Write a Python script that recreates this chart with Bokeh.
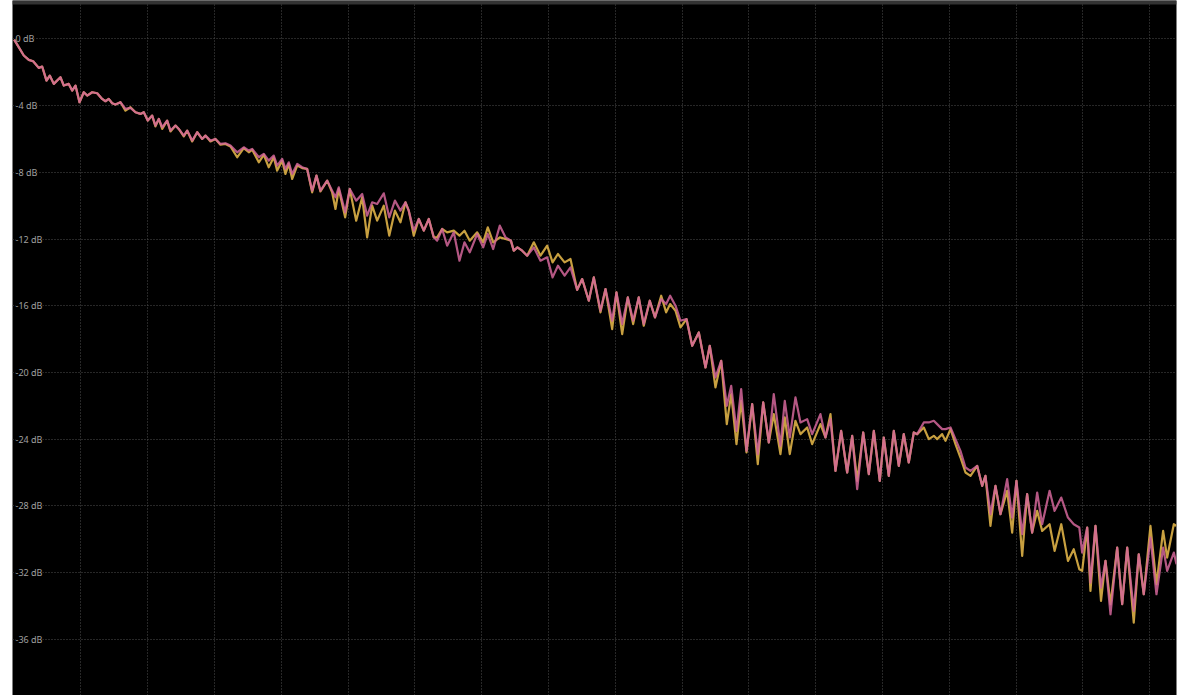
from bokeh.plotting import figure
from bokeh.models import Range1d, Grid, FixedTicker, BoxAnnotation, ColumnDataSource, LabelSet
from bokeh.core.properties import value
from bokeh.embed import file_html
from bokeh.resources import INLINE

# Frequency position (grid divisions) shared by both measurements
freq_pos = [
    0.000, 0.144, 0.219, 0.284, 0.368, 0.419, 0.484, 0.533, 0.593, 0.693,
    0.743, 0.817, 0.868, 0.918, 0.978, 1.042, 1.093, 1.168, 1.243, 1.317,
    1.367, 1.416, 1.467, 1.516, 1.591, 1.666, 1.741, 1.816, 1.891, 1.940,
    2.000, 2.066, 2.115, 2.165, 2.216, 2.290, 2.340, 2.415, 2.464, 2.539,
    2.590, 2.665, 2.740, 2.814, 2.864, 2.939, 3.013, 3.088, 3.163, 3.238,
    3.338, 3.437, 3.512, 3.563, 3.662, 3.737, 3.811, 3.886, 3.937, 4.012,
    4.061, 4.111, 4.162, 4.237, 4.311, 4.386,
    4.461, 4.525, 4.585, 4.686, 4.760, 4.810, 4.859, 4.955, 5.024, 5.120,
    5.210, 5.284, 5.359, 5.434, 5.533, 5.615, 5.700, 5.783, 5.858, 5.907,
    5.982, 6.057, 6.132, 6.207, 6.281, 6.332, 6.407, 6.482, 6.581, 6.666,
    6.741, 6.820, 6.931, 7.021, 7.090, 7.171, 7.270, 7.355, 7.436, 7.479,
    7.534, 7.605, 7.680, 7.779, 7.879, 7.979, 8.060, 8.140, 8.240, 8.328,
    8.428, 8.503, 8.602, 8.677, 8.777, 8.852, 8.952, 9.016, 9.102, 9.186,
    9.266, 9.350, 9.425, 9.515, 9.593, 9.686, 9.760, 9.820, 9.900, 9.975,
    10.065, 10.150, 10.249, 10.349, 10.413, 10.498, 10.584, 10.668, 10.734, 10.813,
    10.883, 10.963, 11.048, 11.132, 11.213, 11.297, 11.371, 11.471, 11.536, 11.611,
    11.696, 11.771, 11.871, 11.946, 12.070, 12.145, 12.220, 12.295, 12.380, 12.470,
    12.545, 12.620, 12.710, 12.794, 12.869, 12.958, 13.018, 13.093, 13.168, 13.243,
    13.317, 13.392, 13.467, 13.518, 13.617, 13.692, 13.767, 13.817, 13.892, 13.942,
    14.017, 14.091, 14.166, 14.241, 14.316, 14.416, 14.491, 14.540, 14.615, 14.690,
    14.765, 14.865, 14.940, 15.004, 15.090, 15.164, 15.239, 15.314, 15.389, 15.500,
    15.575, 15.675, 15.775, 15.862, 15.945, 15.988, 16.063, 16.112, 16.187, 16.270,
    16.337, 16.412, 16.512, 16.587, 16.662, 16.760, 16.835, 16.910, 17.010, 17.100,
    17.200, 17.260, 17.360, 17.400,
]

# Response of measurement B (pink), dB
response_pink = [
    -0.05, -1.00, -1.26, -1.34, -1.74, -1.66, -2.50, -2.20, -2.70, -2.30,
    -2.80, -2.70, -3.10, -2.80, -3.80, -3.20, -3.40, -3.20, -3.26, -3.60,
    -3.74, -3.60, -3.86, -3.94, -3.80, -4.20, -4.14, -4.40, -4.50, -4.40,
    -4.90, -4.60, -5.20, -4.80, -5.30, -4.90, -5.50, -5.20, -5.40, -5.80,
    -5.50, -6.10, -5.60, -6.00, -5.80, -6.10, -6.00, -6.30, -6.26, -6.40,
    -6.80, -6.50, -6.70, -6.60, -7.10, -6.90, -7.30, -7.00, -7.60, -7.20,
    -7.80, -7.40, -8.10, -7.50, -7.70, -7.80,
    -9.10, -8.20, -9.10, -8.50, -9.10, -9.50, -8.90, -10.40, -9.00, -9.70,
    -9.30, -10.60, -9.80, -9.90, -9.26, -10.70, -9.70, -10.30, -9.80, -10.30,
    -11.50, -10.80, -11.50, -10.80, -11.90, -12.10, -11.40, -12.40, -11.60, -13.30,
    -12.20, -12.80, -11.70, -12.50, -11.70, -12.60, -11.20, -11.90, -12.10, -12.70,
    -12.50, -12.70, -13.00, -12.50, -13.30, -13.10, -14.30, -13.60, -14.20, -13.70,
    -15.05, -14.40, -15.70, -14.30, -16.30, -15.00, -16.90, -15.20, -17.10, -15.50,
    -16.90, -15.50, -17.10, -15.70, -16.70, -15.60, -15.90, -15.40, -16.00, -16.90,
    -16.80, -18.40, -17.60, -19.70, -18.40, -20.30, -19.30, -22.00, -20.80, -23.50,
    -21.00, -24.70, -21.90, -24.90, -21.80, -24.20, -21.30, -24.40, -21.70, -23.90,
    -21.50, -23.00, -22.80, -23.70, -22.50, -23.90, -22.80, -25.90, -23.50, -26.00,
    -23.80, -27.00, -23.60, -26.10, -23.50, -26.50, -23.90, -26.20, -23.50, -25.60,
    -23.70, -25.40, -23.60, -23.70, -23.00, -23.00, -22.90, -23.10, -23.40, -23.40,
    -23.30, -24.00, -24.70, -25.70, -25.90, -25.60, -26.80, -26.20, -28.50, -26.80,
    -28.50, -26.40, -28.70, -26.50, -29.70, -27.30, -29.60, -27.20, -29.10, -27.10,
    -28.30, -27.50, -28.70, -29.10, -29.30, -30.80, -29.30, -32.60, -29.20, -32.90,
    -31.30, -34.50, -30.50, -33.90, -30.50, -34.30, -30.90, -33.30, -29.90, -33.30,
    -30.50, -31.90, -30.80, -31.50,
]

# Response of measurement A (yellow), dB
response_yellow = [
    -0.05, -1.00, -1.26, -1.34, -1.74, -1.66, -2.50, -2.20, -2.70, -2.30,
    -2.80, -2.70, -3.10, -2.80, -3.80, -3.20, -3.40, -3.20, -3.26, -3.60,
    -3.74, -3.60, -3.86, -3.94, -3.80, -4.30, -4.10, -4.40, -4.50, -4.40,
    -4.90, -4.60, -5.25, -4.80, -5.40, -4.90, -5.55, -5.20, -5.40, -5.85,
    -5.50, -6.15, -5.60, -6.00, -5.80, -6.15, -6.00, -6.35, -6.30, -6.45,
    -7.10, -6.55, -6.80, -6.65, -7.40, -6.95, -7.70, -7.10, -7.90, -7.30,
    -8.10, -7.50, -8.40, -7.60, -7.75, -7.80,
    -9.20, -8.20, -9.15, -8.50, -9.20, -10.20, -9.00, -10.70, -9.00, -10.90,
    -9.50, -11.90, -10.00, -10.90, -10.00, -11.80, -10.30, -11.00, -9.80, -10.30,
    -11.80, -10.80, -11.50, -10.80, -11.90, -11.90, -11.40, -11.60, -11.50, -11.80,
    -11.50, -12.10, -11.60, -12.20, -11.30, -12.20, -11.90, -12.00, -12.10, -12.70,
    -12.50, -12.70, -13.00, -12.20, -13.00, -12.40, -13.40, -12.90, -13.40, -13.20,
    -15.05, -14.40, -15.70, -14.30, -16.40, -15.00, -17.40, -15.20, -17.70, -15.50,
    -17.10, -15.50, -17.20, -15.70, -16.70, -15.40, -16.40, -15.90, -16.30, -17.30,
    -16.80, -18.40, -17.60, -19.70, -18.40, -20.90, -19.30, -23.10, -21.30, -24.30,
    -21.70, -24.80, -21.90, -25.50, -21.80, -24.20, -22.50, -24.90, -22.70, -24.90,
    -22.90, -23.70, -23.30, -24.30, -23.10, -23.90, -22.50, -25.90, -23.50, -26.00,
    -23.80, -26.50, -23.60, -26.10, -23.50, -26.50, -23.90, -26.20, -23.50, -25.60,
    -23.70, -25.40, -23.60, -23.70, -23.30, -24.00, -23.80, -24.00, -23.70, -24.10,
    -23.40, -24.30, -25.10, -26.00, -26.20, -25.60, -26.80, -26.20, -29.20, -26.80,
    -28.50, -27.10, -29.60, -26.50, -31.00, -27.30, -29.60, -28.30, -29.50, -29.10,
    -30.70, -29.10, -31.30, -30.60, -31.80, -31.90, -29.30, -33.10, -29.20, -33.70,
    -31.30, -33.90, -30.50, -33.90, -30.50, -35.00, -30.90, -33.30, -29.20, -32.70,
    -29.50, -31.10, -29.10, -29.20,
]

# Level axis
db_ticks = [0, -4, -8, -12, -16, -20, -24, -28, -32, -36]
db_labels = ["0 dB", "-4 dB", "-8 dB", "-12 dB", "-16 dB", "-20 dB",
             "-24 dB", "-28 dB", "-32 dB", "-36 dB"]
freq_grid = [1, 2, 3, 4, 5, 6, 7, 8, 9, 10, 11, 12, 13, 14, 15, 16, 17]

x_start, x_end = -0.025, 17.40
y_start, y_end = -39.37, 2.30

p = figure(width=1181, height=695, output_backend="svg", toolbar_location=None,
           x_range=Range1d(x_start, x_end), y_range=Range1d(y_start, y_end),
           x_axis_type=None, y_axis_type=None,
           min_border_left=12, min_border_right=5, min_border_top=0, min_border_bottom=0,
           background_fill_color="black", border_fill_color="white",
           outline_line_color=None)

grid_style = dict(grid_line_color="#4e4e4e", grid_line_dash="1 2", grid_line_width=1)
p.add_layout(Grid(dimension=0, ticker=FixedTicker(ticks=freq_grid), **grid_style), "center")
p.add_layout(Grid(dimension=1, ticker=FixedTicker(ticks=db_ticks), **grid_style), "center")

# level labels sit on the grid lines, beneath the traces
label_src = ColumnDataSource(dict(x=[x_start] * len(db_ticks), y=db_ticks, text=db_labels))
p.add_layout(LabelSet(x="x", y="y", text="text", source=label_src, x_offset=3,
                      text_baseline="middle", text_align="left",
                      text_font=value("Noto Sans"), text_font_size="9px",
                      text_color="#a0a0a0", background_fill_color="black",
                      level="underlay"))

# dark header strip across the top of the display
p.add_layout(BoxAnnotation(bottom=2.06, fill_color="#333333", fill_alpha=1.0, line_color=None))

p.line(freq_pos, response_yellow, line_color="#c8a040", line_width=2.2, line_join="round")
p.line(freq_pos, response_pink, line_color="#d4669a", line_width=2.2, line_join="round",
       line_alpha=0.85)

open("out.html", "w").write(file_html(p, INLINE))
